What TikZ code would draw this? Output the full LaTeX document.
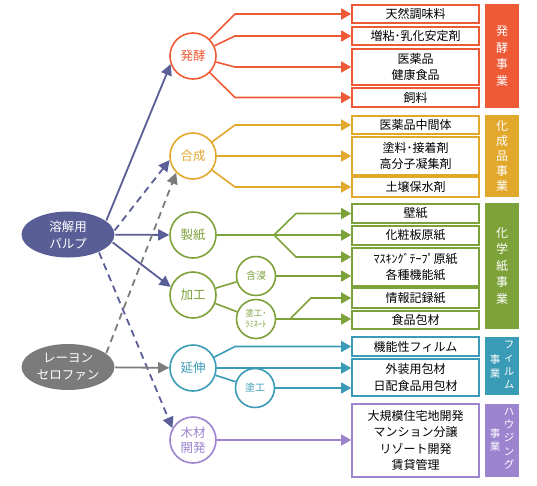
\documentclass[tikz,border=0pt]{standalone}
\usepackage{fontspec}
\setmainfont{Noto Sans CJK JP}
\usepackage{tikz}
\usetikzlibrary{positioning}
\usetikzlibrary{arrows.meta}
\usetikzlibrary{shapes.geometric}
\definecolor{hakko}{HTML}{EE5A36}
\definecolor{kasei}{HTML}{E2A82C}
\definecolor{kami}{HTML}{7DA23A}
\definecolor{film}{HTML}{3A9BB6}
\definecolor{house}{HTML}{9C84CF}
\definecolor{pulpc}{HTML}{5A5E96}
\definecolor{rayonc}{HTML}{7B7B7B}
\tikzset{
ov/.style={
  ellipse,
  inner sep=0pt,
  minimum width=93pt,
  minimum height=46pt,
  align=center,
  text=white,
  font=\fontsize{12.5}{17}\selectfont
  },
c/.style={
  circle,solid,
  inner sep=0pt,
  minimum size=46pt,
  align=center,
  draw=#1,
  text=#1,
  fill=white,
  font=\fontsize{12.5}{15}\selectfont
  },
cs/.style={
  c=#1,
  minimum size=39pt,
  font=\fontsize{10}{12}\selectfont
  },
bx/.style={
  rectangle,
  inner sep=0pt,
  minimum width=127pt,
  align=center,
  draw=#1,
  fill=white,
  font=\fontsize{12}{16.5}\selectfont
  },
bar/.style={
  rectangle,
  inner sep=0pt,
  minimum width=34pt,
  align=center,
  fill=#1,
  text=white,
  font=\fontsize{12}{16.5}\selectfont
  },
bartxt/.style={
  inner sep=0pt,
  align=center,
  text=white,
  font=\fontsize{10.5}{13.3}\selectfont
  },
pl/.style={
  draw=#1,
  line width=1.8pt,
  -{Triangle[length=11pt,width=11pt]}
  },
dl/.style={
  pl=#1,
  dash pattern=on 7pt off 5pt
  }
}

\begin{document}
\begin{tikzpicture}[x=1pt,y=-1pt,->,>={Triangle[length=10pt,width=11pt]},line width=1.6pt]
            \useasboundingbox (0,0) rectangle (537,485);
            % sources
            \node[ov,fill=pulpc] (pulp) at (68,234.5) {溶解用\\パルプ};
            \node[ov,fill=rayonc] (rayon) at (68,367) {レーヨン\\セロファン};
            % processes
            \node[c=hakko] (hk) at (193,56) {発酵};
            \node[c=kasei] (gs) at (193,156) {合成};
            \node[c=kami] (ss) at (193,235) {製紙};
            \node[c=kami] (kk) at (193,295) {加工};
            \node[c=film] (en) at (193,368) {延伸};
            \node[c=house] (mz) at (193,440) {木材\\開発};
            \node[cs=kami] (gan) at (256,276) {含浸};
            \node[cs=kami,font=\fontsize{8.5}{11}\selectfont] (lam) at (256,319) {塗工･\\ﾗﾐﾈｰﾄ};
            \node[cs=film] (tk) at (255,388) {塗工};
            % products
            \node[bx=hakko,minimum height=18pt] (t1) at (415.5,14) {天然調味料};
            \node[bx=hakko,minimum height=18pt] (t2) at (415.5,36) {増粘･乳化安定剤};
            \node[bx=hakko,minimum height=36pt] (t3) at (415.5,67) {医薬品\\健康食品};
            \node[bx=hakko,minimum height=19pt] (t4) at (415.5,97.5) {飼料};
            \node[bx=kasei,minimum height=18pt] (k1) at (415.5,125) {医薬品中間体};
            \node[bx=kasei,minimum height=38pt] (k2) at (415.5,156) {塗料･接着剤\\高分子凝集剤};
            \node[bx=kasei,minimum height=20pt] (k3) at (415.5,187) {土壌保水剤};
            \node[bx=kami,minimum height=19pt] (p1) at (415.5,213.5) {壁紙};
            \node[bx=kami,minimum height=19pt] (p2) at (415.5,235.5) {化粧板原紙};
            \node[bx=kami,minimum height=38pt] (p3) at (415.5,267) {ﾏｽｷﾝｸﾞﾃｰﾌﾟ原紙\\各種機能紙};
            \node[bx=kami,minimum height=20pt] (p4) at (415.5,298) {情報記録紙};
            \node[bx=kami,minimum height=18pt] (p5) at (415.5,320) {食品包材};
            \node[bx=film,minimum height=19pt] (f1) at (415.5,346.5) {機能性フィルム};
            \node[bx=film,minimum height=37pt] (f2) at (415.5,377.5) {外装用包材\\日配食品用包材};
            \node[bx=house,minimum height=73pt] (h1) at (415.5,440.5) {大規模住宅地開発\\マンション分譲\\リゾート開発\\賃貸管理};
            % business bars
            \node[bar=hakko,minimum height=104pt] (b1) at (502,56) {発\\酵\\事\\業};
            \node[bar=kasei,minimum height=82pt,font=\fontsize{12}{15}\selectfont] (b2) at (502,156) {化\\成\\品\\事\\業};
            \node[bar=kami,minimum height=126pt] (b3) at (502,266) {化\\学\\紙\\事\\業};
            \node[bar=film,minimum height=58pt] (b4) at (502,366) {};
            \node[bar=house,minimum height=73pt] (b5) at (502,440.5) {};
            \node[bartxt] (b4r) at (509,365) {フ\\ィ\\ル\\ム};
            \node[bartxt] (b4l) at (495,366.5) {事\\業};
            \node[bartxt] (b5r) at (509,438.5) {ハ\\ウ\\ジ\\ン\\グ};
            \node[bartxt] (b5l) at (495,440) {事\\業};
            % elbows and forks
            \coordinate (hx) at (235,0);
            \coordinate (sf) at (274,235);
            \coordinate (sx) at (296,0);
            \coordinate (lf) at (290,319);
            \coordinate (lx) at (311,0);
            \coordinate (p3a) at ([yshift=10pt]p3.west);
            % fermentation
            \begin{scope}[draw=hakko]
            \draw (hk) -- (hx |- t1.west) -- (t1.west);
            \draw (hk) -- (hx |- t2.west) -- (t2.west);
            \draw (hk) -- (hx |- t3.west) -- (t3.west);
            \draw (hk) -- (hx |- t4.west) -- (t4.west);
            \end{scope}
            % synthesis
            \begin{scope}[draw=kasei]
            \draw (gs) -- (hx |- k1.west) -- (k1.west);
            \draw (gs) -- (k2.west);
            \draw (gs) -- (hx |- k3.west) -- (k3.west);
            \end{scope}
            % paper
            \begin{scope}[draw=kami]
            \draw (ss) -- (p2.west |- ss);
            \draw (sf) -- (sx |- p1.west) -- (p1.west);
            \draw (sf) -- (sx |- p3a) -- (p3a);
            \draw[-] (kk) -- (gan);
            \draw[-] (kk) -- (lam);
            \draw (gan) -- (p3.west |- gan);
            \draw (lam) -- (p5.west |- lam);
            \draw (lf) -- (lx |- p4.west) -- (p4.west);
            \end{scope}
            % film
            \begin{scope}[draw=film]
            \draw (en) -- (hx |- f1.west) -- (f1.west);
            \draw (en) -- (f2.west |- en);
            \draw[-] (en) -- (tk);
            \draw (tk) -- (f2.west |- tk);
            \end{scope}
            % housing
            \draw[house] (mz) -- (h1.west |- mz);
            % from the sources
            \path
            (pulp.20) edge [pl=pulpc] (hk.200)
            (pulp.5) edge [dl=pulpc] (gs.190)
            (pulp) edge [pl=pulpc] (ss)
            (pulp.-10) edge [pl=pulpc] (kk.160)
            (pulp.-30) edge [dl=pulpc] (mz.150)
            (rayon.20) edge [dl=rayonc] (gs.225)
            (rayon) edge [pl=rayonc] (en)
            ;
        \end{tikzpicture}
\end{document}
